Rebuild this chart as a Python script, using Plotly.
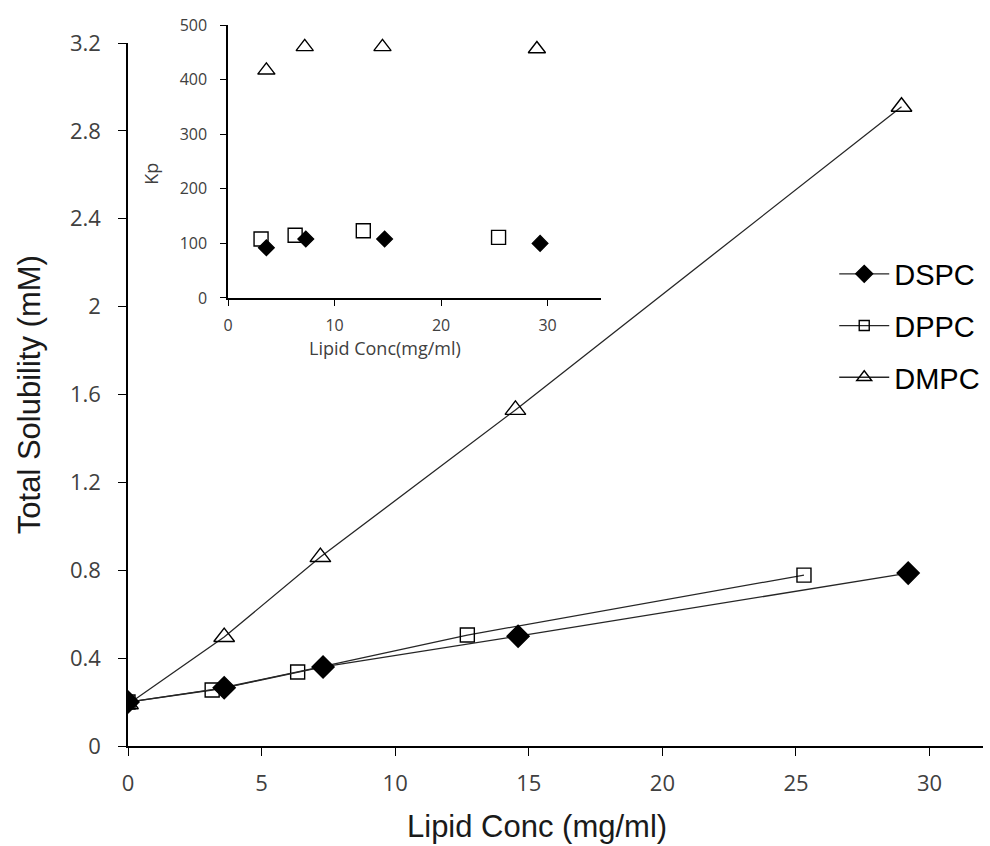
import plotly.graph_objects as go

# Total solubility versus lipid concentration
lipids = ["DSPC", "DPPC", "DMPC"]
conc_dspc = [0, 3.6, 7.3, 14.6, 29.2]
sol_dspc = [0.20, 0.265, 0.36, 0.50, 0.787]
conc_dppc = [0, 3.15, 6.35, 12.7, 25.3]
sol_dppc = [0.20, 0.255, 0.337, 0.505, 0.778]
conc_dmpc = [0, 3.6, 7.2, 14.5, 28.95]
sol_dmpc = [0.19, 0.496, 0.86, 1.53, 2.91]

# Partition coefficient (inset)
kp_conc_dspc = [3.6, 7.3, 14.7, 29.3]
kp_dspc = [92, 108, 108, 100]
kp_conc_dppc = [3.1, 6.3, 12.7, 25.4]
kp_dppc = [108, 115, 123, 111]
kp_conc_dmpc = [3.6, 7.2, 14.5, 29.0]
kp_dmpc = [417, 460, 460, 456]

main_x_ticks = [0, 5, 10, 15, 20, 25, 30]
main_y_ticks = [0, 0.4, 0.8, 1.2, 1.6, 2, 2.4, 2.8, 3.2]
inset_x_ticks = [0, 10, 20, 30]
inset_y_ticks = [0, 100, 200, 300, 400, 500]

LINE = "#262626"
TICK_FONT = "Open Sans, Noto Sans, sans-serif"
TITLE_FONT = "Liberation Sans, Arial, sans-serif"

fig = go.Figure()

main_series = [
    ("DMPC", conc_dmpc, sol_dmpc, "triangle-up-open", 18),
    ("DPPC", conc_dppc, sol_dppc, "square-open", 14),
    ("DSPC", conc_dspc, sol_dspc, "diamond", 17),
]
for name, xs, ys, sym, size in main_series:
    fig.add_trace(go.Scatter(
        x=xs, y=ys, name=name, mode="lines+markers", showlegend=False,
        line=dict(color=LINE, width=1.3),
        marker=dict(symbol=sym, size=size, color="black",
                    line=dict(color="black", width=1.4)),
        xaxis="x", yaxis="y",
    ))

# Legend entries use smaller key symbols than the plotted markers
legend_keys = [
    ("DSPC", "diamond", 13, 1),
    ("DPPC", "square-open", 10, 2),
    ("DMPC", "triangle-up-open", 13, 3),
]
for name, sym, size, rank in legend_keys:
    fig.add_trace(go.Scatter(
        x=[None], y=[None], name=name, mode="lines+markers",
        line=dict(color=LINE, width=1.3),
        marker=dict(symbol=sym, size=size, color="black",
                    line=dict(color="black", width=1.4)),
        legendgroup=name, legendrank=rank,
        xaxis="x", yaxis="y",
    ))

inset_series = [
    ("DMPC", kp_conc_dmpc, kp_dmpc, "triangle-up-open", 15),
    ("DPPC", kp_conc_dppc, kp_dppc, "square-open", 14),
    ("DSPC", kp_conc_dspc, kp_dspc, "diamond", 12),
]
for name, xs, ys, sym, size in inset_series:
    fig.add_trace(go.Scatter(
        x=xs, y=ys, name=name, mode="markers", showlegend=False,
        marker=dict(symbol=sym, size=size, color="black",
                    line=dict(color="black", width=1.4)),
        xaxis="x2", yaxis="y2",
    ))

axis_common = dict(
    showgrid=False, zeroline=False, showline=True, linecolor="black",
    linewidth=1.5, ticks="outside", tickcolor="black", tickwidth=1.3,
)

fig.update_layout(
    width=990, height=846,
    margin=dict(l=128, r=7, t=25, b=100, autoexpand=False),
    paper_bgcolor="white", plot_bgcolor="white",
    xaxis=dict(domain=[0, 1], range=[0, 32], tickvals=main_x_ticks,
               ticklen=8, ticklabelstandoff=9,
               tickfont=dict(family=TICK_FONT, size=22, color="#404040"),
               anchor="y", **axis_common),
    yaxis=dict(domain=[0, 0.975], range=[0, 3.2], tickvals=main_y_ticks,
               ticktext=[("%g" % v) for v in main_y_ticks],
               ticklen=8, ticklabelstandoff=13,
               tickfont=dict(family=TICK_FONT, size=22, color="#404040"),
               anchor="x", **axis_common),
    xaxis2=dict(domain=[0.117, 0.553], range=[0, 35], tickvals=inset_x_ticks,
                ticklen=6, ticklabelstandoff=6,
                tickfont=dict(family=TICK_FONT, size=16, color="#404040"),
                anchor="y2", **axis_common),
    yaxis2=dict(domain=[0.6214, 1], range=[0, 500], tickvals=inset_y_ticks,
                ticklen=6, ticklabelstandoff=10,
                tickfont=dict(family=TICK_FONT, size=16, color="#404040"),
                anchor="x2", **axis_common),
    legend=dict(x=0.826, y=0.69, xanchor="left", yanchor="top",
                font=dict(family=TITLE_FONT, size=29, color="black"),
                bgcolor="rgba(0,0,0,0)", tracegroupgap=11,
                itemwidth=50),
    showlegend=True,
    annotations=[
        dict(text="Lipid Conc (mg/ml)", xref="paper", yref="paper",
             x=0.478, y=-0.112, xanchor="center", yanchor="middle",
             showarrow=False,
             font=dict(family=TITLE_FONT, size=31, color="#1a1a1a")),
        dict(text="Total Solubility (mM)", xref="paper", yref="paper",
             x=-0.115, y=0.4875, xanchor="center", yanchor="middle",
             textangle=-90, showarrow=False,
             font=dict(family=TITLE_FONT, size=31, color="#1a1a1a")),
        dict(text="Lipid Conc(mg/ml)", xref="paper", yref="paper",
             x=0.301, y=0.552, xanchor="center", yanchor="middle",
             showarrow=False,
             font=dict(family=TICK_FONT, size=18, color="#404040")),
        dict(text="Kp", xref="paper", yref="paper",
             x=0.026, y=0.794, xanchor="center", yanchor="middle",
             textangle=-90, showarrow=False,
             font=dict(family=TICK_FONT, size=18, color="#404040")),
    ],
)

fig.write_html("out.html")
